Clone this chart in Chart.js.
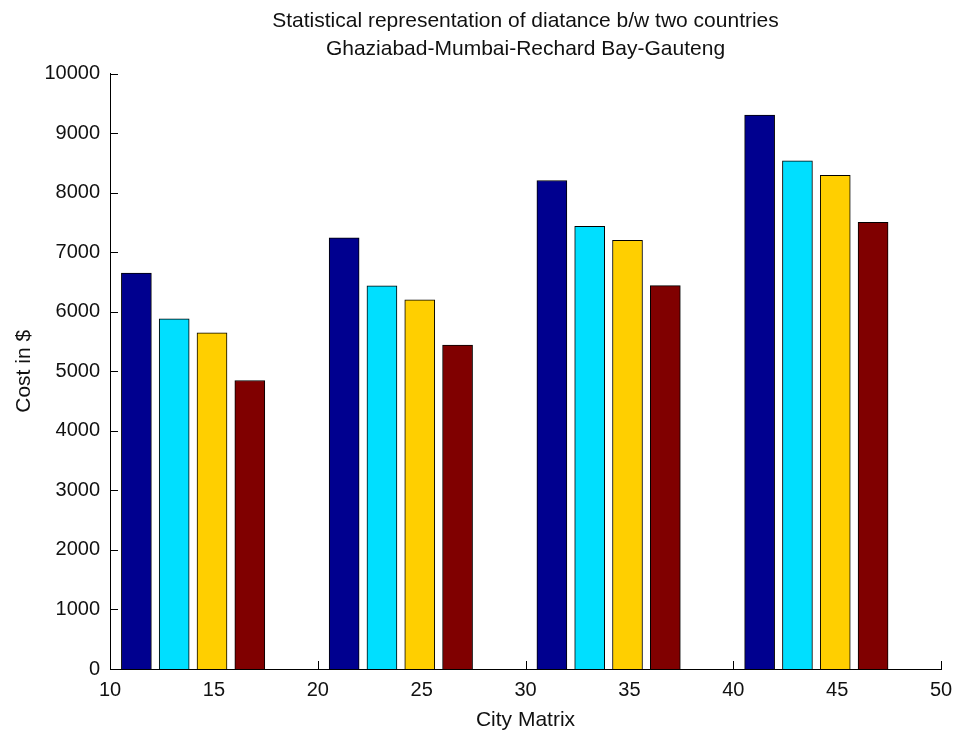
<!DOCTYPE html>
<html>
<head>
<meta charset="utf-8">
<title>Statistical representation of diatance b/w two countries</title>
<script src="https://cdn.jsdelivr.net/npm/chart.js@4.4.1/dist/chart.umd.min.js"></script>
<style>
  body { margin: 0; background: #fff; }
  canvas { display: block; }
</style>
</head>
<body>
<canvas id="costChart" width="956" height="736"></canvas>
<script>
// groups sit at x = 14, 24, 34, 44 (matlab style grouped bars)
const groupCenters = [14, 24, 34, 44];
const barOffsets = [-2.73, -0.91, 0.91, 2.73];

const seriesNames = ['Series 1', 'Series 2', 'Series 3', 'Series 4'];
const series1 = [6650, 7240, 8205, 9305];
const series2 = [5880, 6435, 7435, 8535];
const series3 = [5645, 6200, 7200, 8290];
const series4 = [4845, 5440, 6440, 7500];

const xTicks = [10, 15, 20, 25, 30, 35, 40, 45, 50];
const yTicks = [0, 1000, 2000, 3000, 4000, 5000, 6000, 7000, 8000, 9000, 10000];

const colors = ['#00008f', '#00dfff', '#ffcf00', '#800000'];

Chart.defaults.font.family = "'Liberation Sans Narrow', 'Arial Narrow', 'Liberation Sans', Arial, sans-serif";
Chart.defaults.font.size = 20;
Chart.defaults.color = '#111';

// matlab draws its tick marks on the inside of the axes
const innerTicks = {
  id: 'innerTicks',
  beforeDatasetsDraw(chart) {
    const { ctx, chartArea, scales } = chart;
    const len = 8;
    ctx.save();
    ctx.strokeStyle = '#000';
    ctx.lineWidth = 1;
    ctx.beginPath();
    scales.x.ticks.forEach(t => {
      const px = Math.round(scales.x.getPixelForValue(t.value)) + 0.5;
      ctx.moveTo(px, chartArea.bottom);
      ctx.lineTo(px, chartArea.bottom - len);
    });
    scales.y.ticks.forEach(t => {
      const py = Math.round(scales.y.getPixelForValue(t.value)) + 0.5;
      ctx.moveTo(chartArea.left, py);
      ctx.lineTo(chartArea.left + len, py);
    });
    ctx.stroke();
    ctx.restore();
  }
};

const allSeries = [series1, series2, series3, series4];

const datasets = allSeries.map((vals, s) => ({
  label: seriesNames[s],
  data: groupCenters.map((x, i) => ({ x: x + barOffsets[s], y: vals[i] })),
  backgroundColor: colors[s],
  borderColor: '#000',
  borderWidth: 1,
  barThickness: 30,
  grouped: false,
}));

const ctx = document.getElementById('costChart').getContext('2d');
const costChart = new Chart(ctx, {
  type: 'bar',
  data: { datasets: datasets },
  options: {
    responsive: false,
    animation: false,
    devicePixelRatio: 1,
    layout: { padding: { left: 0, right: 15, top: 0, bottom: 0 } },
    plugins: {
      legend: { display: false },
      tooltip: { enabled: false },
      title: {
        display: true,
        fullSize: false,
        text: ['Statistical representation of diatance b/w two countries', 'Ghaziabad-Mumbai-Rechard Bay-Gauteng'],
        color: '#111',
        font: { size: 21, weight: 'normal', lineHeight: 1.3 },
        padding: { top: 8, bottom: 11 },
      },
    },
    scales: {
      x: {
        type: 'linear',
        min: 10,
        max: 50,
        offset: false,
        grid: { display: false, drawTicks: false, offset: false },
        border: { display: true, color: '#000', width: 1 },
        ticks: { padding: 9, maxRotation: 0, callback: v => String(v) },
        afterBuildTicks: scale => { scale.ticks = xTicks.map(v => ({ value: v })); },
        afterFit: scale => {
          scale.height = 67;
          scale.paddingLeft = 0;
          scale.paddingRight = 0;
        },
        title: {
          display: true,
          text: 'City Matrix',
          font: { size: 21, lineHeight: 1.2 },
          padding: { top: 0, bottom: 3 },
        },
      },
      y: {
        min: 0,
        max: 10000,
        grid: { display: false, drawTicks: false },
        border: { display: true, color: '#000', width: 1 },
        ticks: { padding: 10, callback: v => String(v) },
        afterBuildTicks: scale => { scale.ticks = yTicks.map(v => ({ value: v })); },
        afterFit: scale => { scale.width = 110; },
        title: {
          display: true,
          text: 'Cost in $',
          font: { size: 21, lineHeight: 1.2 },
          padding: { top: 12, bottom: 0 },
        },
      },
    },
  },
  plugins: [innerTicks],
});
</script>
</body>
</html>
